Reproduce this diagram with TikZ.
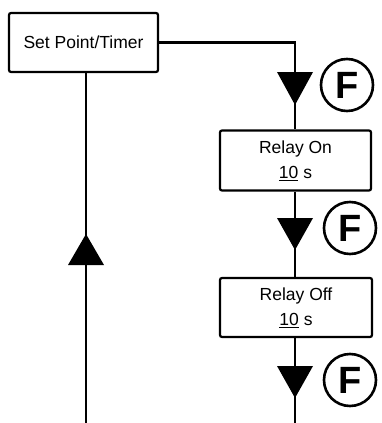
\documentclass[tikz,border=0pt]{standalone}
\usepackage{fontspec}
\setmainfont{Liberation Sans}
\begin{document}
\begin{tikzpicture}[x=1pt,y=-1pt,line width=2.2pt,
  box/.style={draw, rounded corners=2pt, align=center, inner sep=0pt,
    font=\fontsize{17.5}{25}\selectfont},
  fmark/.style={circle, draw, line width=2.6pt, minimum size=52pt, inner sep=0pt,
    font=\fontsize{38}{38}\selectfont\bfseries},
  tri/.style={fill=black, draw=none}]
\useasboundingbox (0,0) rectangle (381,423);
\node[box, minimum width=149pt, minimum height=59pt] (sp) at (83.5,42.5) {Set Point/Timer};
\node[box, minimum width=151pt, minimum height=60pt] (ron) at (295.5,160.5) {Relay On\\\underline{10} s};
\node[box, minimum width=152pt, minimum height=59pt] (roff) at (296,307.5) {Relay Off\\\underline{10} s};
\coordinate (endR) at (295,423);
\coordinate (endL) at (86,423);
\draw (sp.east) -- (sp.east -| endR) -- (ron.north -| endR);
\draw (ron.south -| endR) -- (roff.north -| endR);
\draw (roff.south -| endR) -- (endR);
\draw (sp.south -| endL) -- (endL);
% arrowheads
\fill[tri] (277,72) -- (313,72) -- (295,105) -- cycle;
\fill[tri] (277,218) -- (313,218) -- (295,250) -- cycle;
\fill[tri] (277,366) -- (313,366) -- (295,398) -- cycle;
\fill[tri] (68,265) -- (104,265) -- (86,234) -- cycle;
% F markers
\node[fmark] (f1) at (347,85) {F};
\node[fmark] (f2) at (350,228) {F};
\node[fmark] (f3) at (350,380) {F};
\end{tikzpicture}
\end{document}
